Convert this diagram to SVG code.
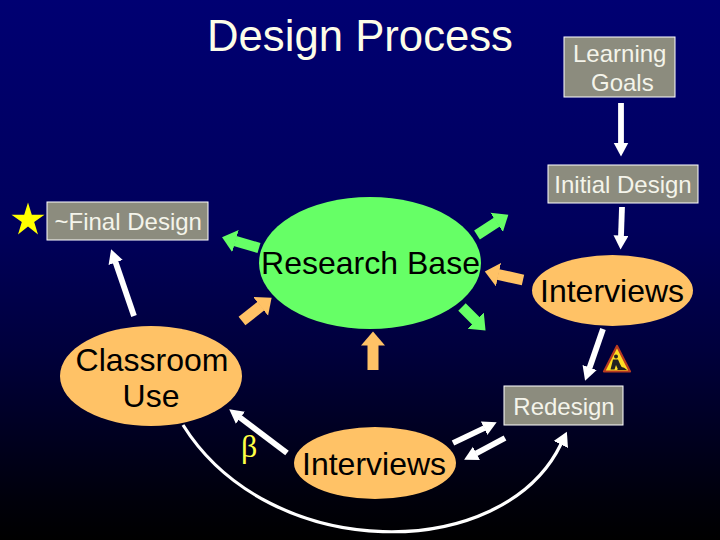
<svg xmlns="http://www.w3.org/2000/svg" width="720" height="540" viewBox="0 0 720 540">
<style>
text{font-family:"Liberation Sans",Arial,sans-serif}
.box{fill:#8c8c7e;stroke:#fff;stroke-width:1}
.bt{font-size:24px;fill:#f4f4ea}
.et{font-size:32px;fill:#000}
.oval{fill:#ffc266}
.w{fill:none;stroke:#fff;stroke-width:5.8;marker-end:url(#hw)}
.g{fill:none;stroke:#66ff66;stroke-width:10.5;marker-end:url(#hg)}
.o{fill:none;stroke:#ffc266;stroke-width:11;marker-end:url(#ho)}
</style>
<defs>
<linearGradient id="bg" x1="0" y1="0" x2="0" y2="1"><stop offset="0" stop-color="#000072"/><stop offset="0.42" stop-color="#00005c"/><stop offset="0.65" stop-color="#00003c"/><stop offset="0.93" stop-color="#00000a"/><stop offset="1" stop-color="#000000"/></linearGradient>
<marker id="hw" markerUnits="userSpaceOnUse" markerWidth="16" markerHeight="16" refX="0.5" refY="7.5" orient="auto"><polygon points="0,0 14,7.5 0,15" fill="#fff"/></marker>
<marker id="hw2" markerUnits="userSpaceOnUse" markerWidth="20" markerHeight="20" refX="0.5" refY="8" orient="auto"><polygon points="0,0 14,8 0,16" fill="#fff"/></marker>
<marker id="hg" markerUnits="userSpaceOnUse" markerWidth="18" markerHeight="26" refX="0.5" refY="11.5" orient="auto"><polygon points="0,0 14,11.5 0,23" fill="#66ff66"/></marker>
<marker id="ho" markerUnits="userSpaceOnUse" markerWidth="18" markerHeight="26" refX="0.5" refY="12" orient="auto"><polygon points="0,0 14,12 0,24" fill="#ffc266"/></marker>
</defs>
<rect width="720" height="540" fill="url(#bg)"/>
<text x="360" y="50.5" text-anchor="middle" font-size="43.7" fill="#fdfde8">Design Process</text>
<g id="connectors">
<line class="w" x1="621" y1="103" x2="621" y2="143"/>
<line class="w" x1="622" y1="207" x2="621" y2="236"/>
<line class="w" x1="603" y1="329" x2="589.5" y2="368"/>
<line class="w" x1="134" y1="316" x2="115.5" y2="262"/>
<line class="w" x1="287" y1="453" x2="240" y2="417.5"/>
<line class="w" x1="453" y1="443" x2="484.5" y2="428"/>
<line class="w" x1="505" y1="438" x2="476" y2="453.5"/>
<path d="M183 425C270 564 503 564 561 444" fill="none" stroke="#fff" stroke-width="3.2" marker-end="url(#hw2)"/>
<line class="g" x1="259" y1="248" x2="235" y2="241"/>
<line class="g" x1="477" y1="235" x2="497" y2="222"/>
<line class="g" x1="462" y1="307" x2="476" y2="321"/>
<line class="o" x1="523" y1="280" x2="498" y2="274.5"/>
<line class="o" x1="242" y1="321" x2="261" y2="306"/>
<line class="o" x1="373" y1="370" x2="373" y2="345"/>
</g>
<g id="learning-goals"><rect class="box" x="564" y="37" width="111" height="60"/><text class="bt" x="573" y="62">Learning</text><text class="bt" x="591" y="91">Goals</text></g>
<g id="initial-design"><rect class="box" x="548" y="165" width="150" height="38"/><text class="bt" x="623" y="193" text-anchor="middle">Initial Design</text></g>
<g id="final-design"><rect class="box" x="47" y="202" width="161" height="38"/><text class="bt" x="54.5" y="230">~Final Design</text></g>
<g id="redesign"><rect class="box" x="504" y="386" width="119" height="39"/><text class="bt" x="564" y="415" text-anchor="middle">Redesign</text></g>
<g id="research-base"><ellipse cx="370" cy="263" rx="111" ry="66" fill="#66ff66"/><text class="et" x="261" y="274" textLength="219">Research Base</text></g>
<g id="interviews-top"><ellipse class="oval" cx="612.5" cy="290.5" rx="80.5" ry="35.5"/><text class="et" x="540" y="302">Interviews</text></g>
<g id="interviews-bottom"><ellipse class="oval" cx="375" cy="463" rx="81" ry="36"/><text class="et" x="302" y="475">Interviews</text></g>
<g id="classroom-use"><ellipse class="oval" cx="151" cy="376" rx="91" ry="50"/><text class="et" x="152" y="371" text-anchor="middle">Classroom</text><text class="et" x="151" y="407" text-anchor="middle">Use</text></g>
<g id="star"><polygon points="28,202.5 31.8,214.7 44.5,214.7 34.2,222 38,234.5 28,226.5 18,234.5 21.8,222 11.5,214.7 24.2,214.7" fill="#ffff00"/></g>
<g id="beta"><text x="241" y="456.5" font-size="32" fill="#ffff44" style="font-family:'Liberation Serif',serif">β</text></g>
<g id="warning">
<polygon points="617,346 630,371.5 604,371.5" fill="#ffdd22" stroke="#b83a20" stroke-width="2.2" stroke-linejoin="round"/>
<circle cx="616" cy="356.5" r="2" fill="#222"/>
<path d="M610.5 369.5L613 359.5L618 359.5L620 364L623 369.5L618 369.5L616 365L614.5 369.5Z" fill="#222"/>
<path d="M617 370Q621 364 627 370Z" fill="#222"/>
</g>
</svg>
